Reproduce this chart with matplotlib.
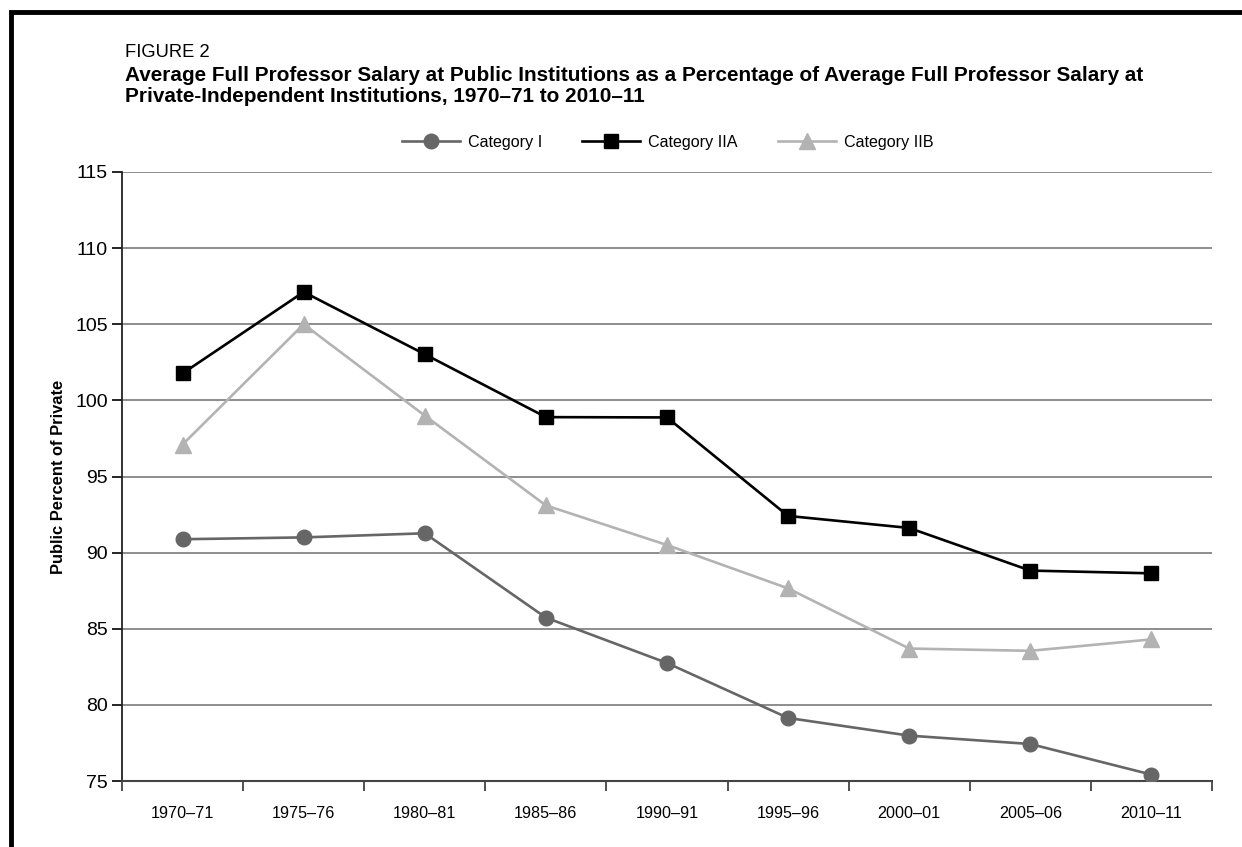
import numpy as np
import matplotlib
matplotlib.use('Agg')
import matplotlib.pyplot as plt
from matplotlib.lines import Line2D
from matplotlib.ticker import FixedLocator, NullFormatter, FixedFormatter
from matplotlib import font_manager

# Data
years = ['1970–71', '1975–76', '1980–81', '1985–86', '1990–91',
         '1995–96', '2000–01', '2005–06', '2010–11']
cat_1 = [90.88, 91.0, 91.27, 85.73, 82.75, 79.14, 77.98, 77.43, 75.42]
cat_2a = [101.77, 107.12, 103.03, 98.9, 98.88, 92.41, 91.62, 88.82, 88.64]
cat_2b = [97.1, 105.0, 99.0, 93.1, 90.5, 87.65, 83.7, 83.55, 84.3]
y_ticks = [75, 80, 85, 90, 95, 100, 105, 110, 115]

# condensed face if present, otherwise Liberation Sans at smaller sizes
names = {f.name for f in font_manager.fontManager.ttflist}
has_narrow = 'Liberation Sans Narrow' in names
plt.rcParams['font.family'] = (['Liberation Sans Narrow'] if has_narrow else []) + \
    ['Liberation Sans', 'DejaVu Sans']
k = 1.0 if has_narrow else 0.83   # width correction

W, H = 1242, 847
fig = plt.figure(figsize=(W / 100, H / 100), dpi=100)
ax = fig.add_axes([122 / W, 1 - 781 / H, (1212 - 122) / W, (781 - 172) / H])

x = np.arange(len(years))
ax.plot(x, cat_1, color='#666666', lw=1.9, marker='o', ms=10.5,
        label='Category I', zorder=3)
ax.plot(x, cat_2a, color='black', lw=1.9, marker='s', ms=10,
        label='Category IIA', zorder=3)
ax.plot(x, cat_2b, color='#b3b3b3', lw=1.9, marker='^', ms=11,
        label='Category IIB', zorder=3)

ax.set_xlim(-0.5, len(years) - 0.5)
ax.set_ylim(75, 115)

# category separators as major ticks, labels on minor ticks
ax.xaxis.set_major_locator(FixedLocator(np.arange(len(years) + 1) - 0.5))
ax.xaxis.set_major_formatter(NullFormatter())
ax.xaxis.set_minor_locator(FixedLocator(x))
ax.xaxis.set_minor_formatter(FixedFormatter(years))
ax.tick_params(axis='x', which='major', length=7, width=1.2, color='#333333')
ax.tick_params(axis='x', which='minor', length=0, pad=18, labelsize=14 * k)

ax.set_yticks(y_ticks)
ax.tick_params(axis='y', length=7, width=1.2, pad=3, labelsize=14)
for lab in ax.get_yticklabels():
    lab.set_family(['Liberation Sans', 'DejaVu Sans'])

ax.yaxis.grid(True, color='#7a7a7a', lw=1.2)
ax.set_axisbelow(True)
for s in ['top', 'right']:
    ax.spines[s].set_visible(False)
ax.spines['left'].set_color('#222222')
ax.spines['left'].set_linewidth(1.3)
ax.spines['bottom'].set_color('#444444')
ax.spines['bottom'].set_linewidth(1.5)

ax.set_ylabel('Public Percent of Private', fontsize=12.5 * k + (0 if has_narrow else 1.5),
              fontweight='bold', labelpad=7)

fs_leg = 14 * k
ax.legend(loc='center', bbox_to_anchor=(667.5 / W, 1 - 142 / H),
          bbox_transform=fig.transFigure, ncol=3, frameon=False, fontsize=fs_leg,
          handlelength=58 / (fs_leg * 100 / 72), handletextpad=8 / (fs_leg * 100 / 72),
          columnspacing=40 / (fs_leg * 100 / 72),
          borderpad=0, borderaxespad=0)

# titles
fig.text(125 / W, 1 - 57 / H, 'FIGURE 2', fontsize=16 * k, va='baseline')
fig.text(125 / W, 1 - 81 / H,
         'Average Full Professor Salary at Public Institutions as a Percentage '
         'of Average Full Professor Salary at',
         fontsize=16 * (1.0 if has_narrow else 0.935), fontweight='bold', va='baseline')
fig.text(125 / W, 1 - 102 / H,
         'Private-Independent Institutions, 1970–71 to 2010–11',
         fontsize=16 * (1.0 if has_narrow else 0.935), fontweight='bold', va='baseline')

# black page frame on top and left
fig.add_artist(Line2D([10.5 / W, 10.5 / W, 1], [0, 1 - 12.5 / H, 1 - 12.5 / H],
                      transform=fig.transFigure, color='black', lw=3.5,
                      solid_joinstyle='miter'))

fig.savefig('out.png', dpi=100)
